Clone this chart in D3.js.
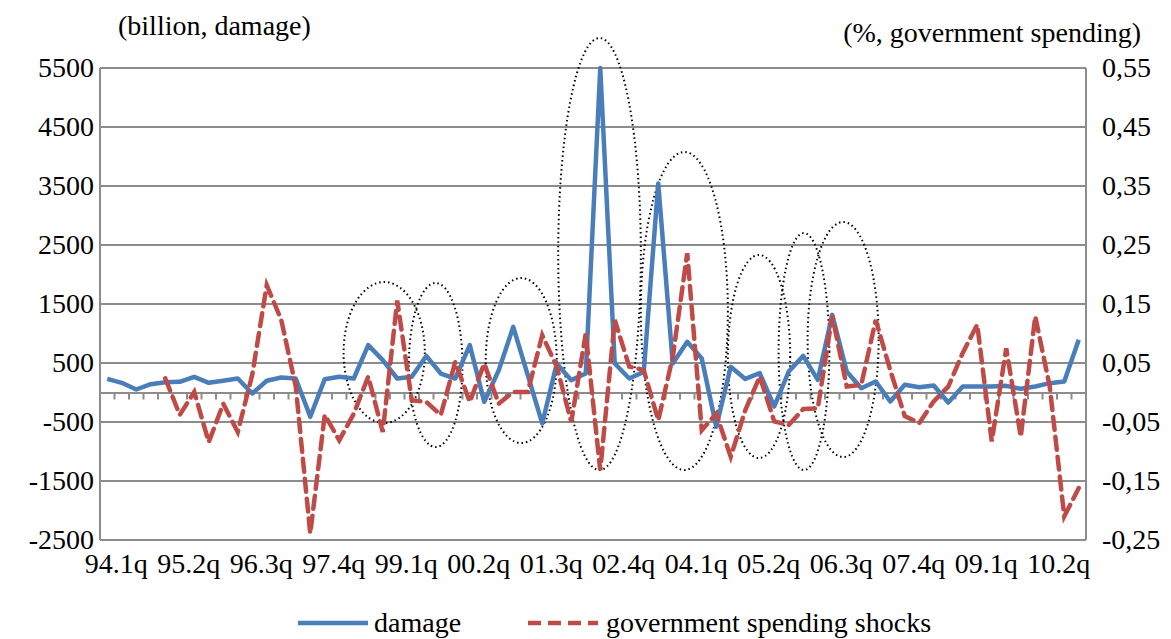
<!DOCTYPE html>
<html><head><meta charset="utf-8">
<script src="https://cdn.jsdelivr.net/npm/d3@7"></script>
<style>body{margin:0;background:#fff}text{font-family:"Liberation Serif",serif;fill:#000}</style>
</head><body>
<svg id="chart" width="1171" height="639"></svg>
<script>
const quarters = ["94.1q","94.2q","94.3q","94.4q","95.1q","95.2q","95.3q","95.4q","96.1q","96.2q","96.3q","96.4q","97.1q","97.2q","97.3q","97.4q","98.1q","98.2q","98.3q","98.4q","99.1q","99.2q","99.3q","99.4q","00.1q","00.2q","00.3q","00.4q","01.1q","01.2q","01.3q","01.4q","02.1q","02.2q","02.3q","02.4q","03.1q","03.2q","03.3q","03.4q","04.1q","04.2q","04.3q","04.4q","05.1q","05.2q","05.3q","05.4q","06.1q","06.2q","06.3q","06.4q","07.1q","07.2q","07.3q","07.4q","08.1q","08.2q","08.3q","08.4q","09.1q","09.2q","09.3q","09.4q","10.1q","10.2q","10.3q","10.4q"]
const tickLabels = ["94.1q","95.2q","96.3q","97.4q","99.1q","00.2q","01.3q","02.4q","04.1q","05.2q","06.3q","07.4q","09.1q","10.2q"]
const damage = [230,164,51,141,175,181,266,164,198,237,-17,198,254,237,-412,226,266,237,802,548,237,266,620,322,237,802,-158,378,1113,294,-525,491,209,322,5500,491,237,350,3543,491,859,576,-582,435,230,328,-237,356,621,215,1316,356,73,186,-153,130,90,119,-170,102,102,102,113,62,102,158,186,893]
const shocks = [null,null,null,null,0.024,-0.038,0.001,-0.084,-0.019,-0.067,0.03,0.182,0.123,0.01,-0.239,-0.038,-0.081,-0.036,0.027,-0.067,0.156,-0.013,-0.016,-0.038,0.052,-0.016,0.049,-0.019,0.001,0.001,0.097,0.044,-0.05,0.1,-0.132,0.123,0.044,0.038,-0.047,0.06,0.236,-0.064,-0.036,-0.109,-0.03,0.027,-0.049,-0.055,-0.028,-0.027,0.13,0.01,0.013,0.123,0.038,-0.04,-0.052,-0.015,0.01,0.067,0.115,-0.083,0.075,-0.075,0.129,0.01,-0.21,-0.162]
const leftTicks = [-2500,-1500,-500,500,1500,2500,3500,4500,5500]
const rightTicks = ["-0,25","-0,15","-0,05","0,05","0,15","0,25","0,35","0,45","0,55"]
// dotted ellipses: [index from, index to, damage low, damage high]
const ellipses = [[16.3,21.9,-517,1873],[20.8,24.5,-924,1856],[26.1,31.0,-856,1941],[31.1,36.8,-1314,6008],[36.8,42.8,-1314,4076],[42.8,47.1,-1110,2331],[46.3,49.8,-1314,2703],[48.3,53.2,-1093,2890]]

const svg = d3.select("#chart")
const L = 100, R = 1086, T = 68, B = 540, FS = 28
const x = d3.scaleBand().domain(quarters).range([L, R])
const xi = i => L + (i + 0.5) * x.bandwidth()
const y = d3.scaleLinear().domain([-2500, 5500]).range([B, T])
const y2 = d3.scaleLinear().domain([-0.25, 0.55]).range([B, T])

svg.selectAll(".grid").data(leftTicks).join("line")
  .attr("x1", L).attr("x2", R).attr("y1", d => y(d)).attr("y2", d => y(d))
  .attr("stroke", "#8c8c8c").attr("stroke-width", 2)
svg.append("line").attr("x1", L).attr("x2", L).attr("y1", T).attr("y2", B).attr("stroke", "#8c8c8c").attr("stroke-width", 2)
svg.append("line").attr("x1", R).attr("x2", R).attr("y1", T).attr("y2", B).attr("stroke", "#8c8c8c").attr("stroke-width", 2)

// zero axis with minor category ticks
const zeroAxis = svg.append("g").attr("transform", `translate(0,${y(0)})`)
  .call(d3.axisBottom(x).tickValues([]).tickSizeOuter(0))
zeroAxis.select(".domain").attr("stroke", "#8c8c8c").attr("stroke-width", 2)
zeroAxis.selectAll(".mt").data(d3.range(1, quarters.length)).join("line")
  .attr("x1", i => L + i * x.bandwidth()).attr("x2", i => L + i * x.bandwidth())
  .attr("y1", 0).attr("y2", 7).attr("stroke", "#8c8c8c").attr("stroke-width", 2)

svg.selectAll(".yl").data(leftTicks).join("text")
  .attr("x", 94).attr("y", d => y(d) + 9).attr("text-anchor", "end")
  .attr("font-size", FS).text(d => d)
svg.selectAll(".yr").data(rightTicks).join("text")
  .attr("x", 1102).attr("y", (d, i) => y2(-0.25 + 0.1 * i) + 9)
  .attr("font-size", FS).text(d => d)
svg.selectAll(".xl").data(tickLabels).join("text")
  .attr("x", d => x(d) + x.bandwidth() / 2 + 9).attr("y", 573).attr("text-anchor", "middle")
  .attr("font-size", FS).text(d => d)

svg.append("text").attr("x", 118).attr("y", 35).attr("font-size", FS).text("(billion, damage)")
svg.append("text").attr("x", 1141).attr("y", 42).attr("text-anchor", "end").attr("font-size", FS).text("(%, government spending)")

svg.selectAll(".ell").data(ellipses).join("ellipse")
  .attr("cx", d => (xi(d[0]) + xi(d[1])) / 2).attr("rx", d => (xi(d[1]) - xi(d[0])) / 2)
  .attr("cy", d => (y(d[2]) + y(d[3])) / 2).attr("ry", d => (y(d[2]) - y(d[3])) / 2)
  .attr("fill", "none").attr("stroke", "#000").attr("stroke-width", 2).attr("stroke-dasharray", "1.5,3")

svg.append("path").datum(damage)
  .attr("d", d3.line().x((d, i) => xi(i)).y(d => y(d)))
  .attr("fill", "none").attr("stroke", "#4a7ebb").attr("stroke-width", 4.5).attr("stroke-linejoin", "round")
svg.append("path").datum(shocks)
  .attr("d", d3.line().defined(d => d !== null).x((d, i) => xi(i)).y(d => y2(d)))
  .attr("fill", "none").attr("stroke", "#be4b48").attr("stroke-width", 4.5)
  .attr("stroke-dasharray", "13,7").attr("stroke-linecap", "round")

const lg = svg.append("g")
lg.append("line").attr("x1", 298).attr("x2", 368).attr("y1", 623).attr("y2", 623).attr("stroke", "#4a7ebb").attr("stroke-width", 4.5)
lg.append("text").attr("x", 374).attr("y", 632).attr("font-size", FS).text("damage")
lg.append("line").attr("x1", 528).attr("x2", 598).attr("y1", 623).attr("y2", 623).attr("stroke", "#be4b48").attr("stroke-width", 4.5).attr("stroke-dasharray", "13,7")
lg.append("text").attr("x", 606).attr("y", 632).attr("font-size", FS).text("government spending shocks")
</script>
</body></html>
